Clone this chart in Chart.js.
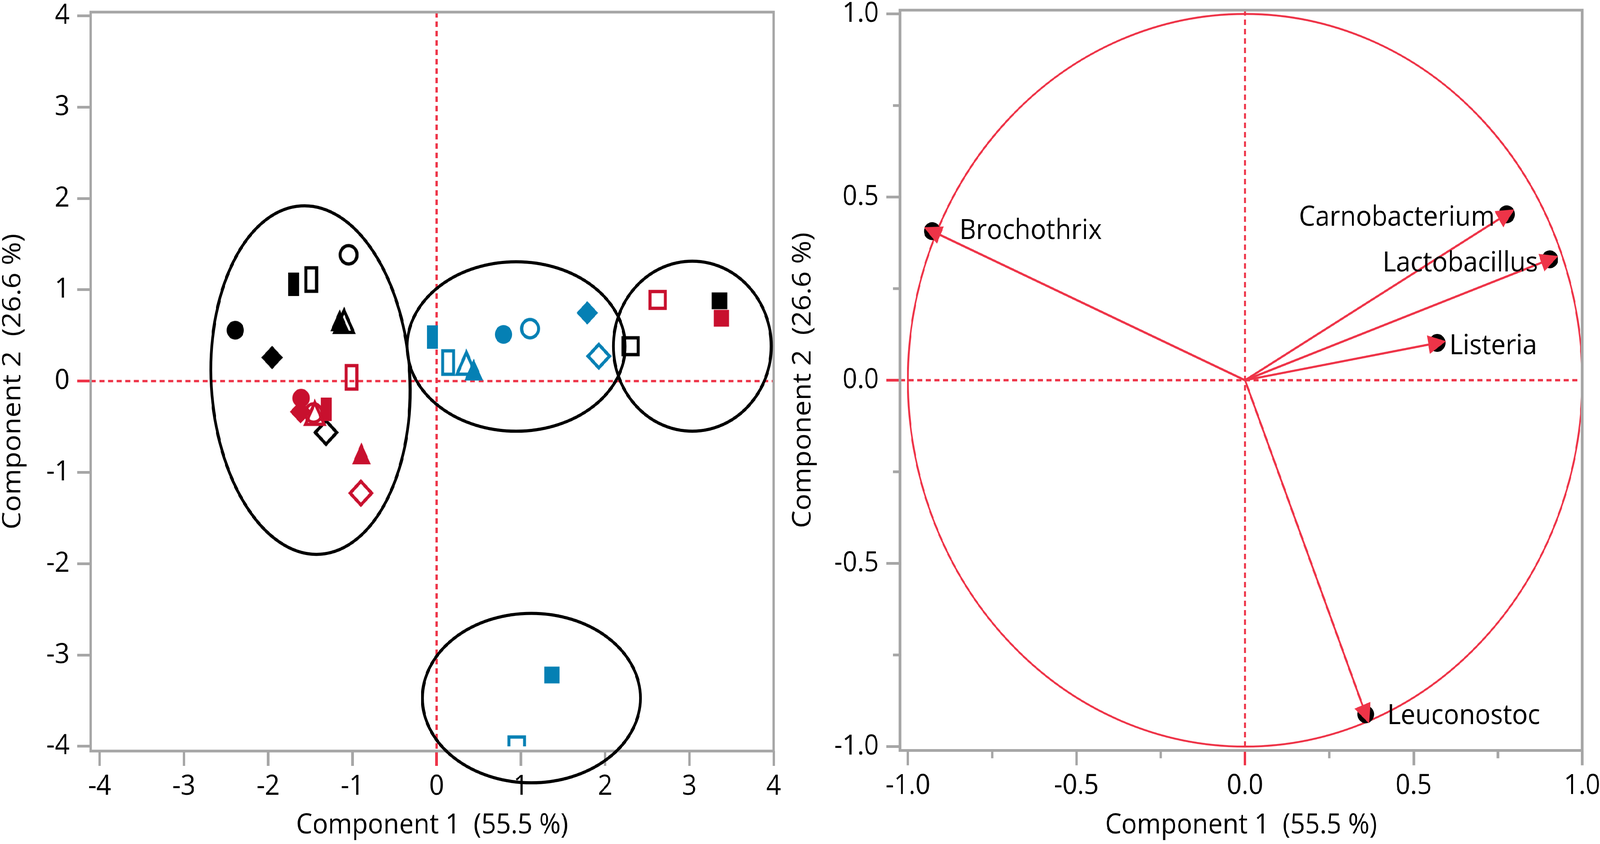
<!DOCTYPE html>
<html>
<head>
<meta charset="utf-8">
<title>PCA score and loading plots</title>
<script src="https://cdn.jsdelivr.net/npm/chart.js@4.4.1/dist/chart.umd.min.js"></script>
<style>
  html, body { margin: 0; padding: 0; background: #fff; overflow: hidden; }
  #view { position: relative; width: 100vw; height: 100vh; overflow: hidden; }
  #stage { position: absolute; left: 0; top: 0; width: 4455px; height: 2161px; transform-origin: 0 0; }
  canvas { position: absolute; top: 0; }
  #scores { left: 0; }
  #loadings { left: 2190px; }
</style>
</head>
<body>
<div id="view">
  <div id="stage">
    <canvas id="scores" width="2190" height="2161"></canvas>
    <canvas id="loadings" width="2265" height="2161"></canvas>
  </div>
</div>
<script>
// ---- score plot (left) ----
// group A = black, B = red, C = blue; marker = sample symbol
const scoreGroup = [
  'A', 'A', 'A', 'A', 'A', 'A', 'A', 'A', 'A', 'A',
  'B', 'B', 'B', 'B', 'B', 'B', 'B', 'B', 'B', 'B',
  'C', 'C', 'C', 'C', 'C', 'C', 'C', 'C', 'C', 'C'
];
const markerOrder = ['circle', 'circle-open', 'bar', 'bar-open', 'diamond', 'diamond-open',
  'triangle', 'triangle-open', 'square', 'square-open'];
const scoreMarker = [...markerOrder, ...markerOrder, ...markerOrder];
const scoreX = [
  -2.390, -1.045, -1.697, -1.489, -1.953, -1.313, -1.151, -1.098, 3.358, 2.302,
  -1.609, -1.460, -1.311, -1.011, -1.615, -0.899, -0.893, -1.446, 3.381, 2.624,
  0.794, 1.109, -0.050, 0.136, 1.788, 1.925, 0.440, 0.353, 1.369, 0.951
];
const scoreY = [
  0.557, 1.383, 1.060, 1.112, 0.258, -0.563, 0.665, 0.653, 0.879, 0.382,
  -0.187, -0.350, -0.309, 0.041, -0.336, -1.227, -0.792, -0.354, 0.688, 0.889,
  0.511, 0.574, 0.482, 0.203, 0.747, 0.273, 0.126, 0.195, -3.219, -3.990
];
const scoreTicks = [-4, -3, -2, -1, 0, 1, 2, 3, 4];

// cluster ellipses (centre, semi-axes in data units, tilt in degrees)
const ellipseCX = [-1.497, 0.944, 3.035, 1.125];
const ellipseCY = [0.011, 0.379, 0.382, -3.472];
const ellipseRX = [1.179, 1.294, 0.937, 1.294];
const ellipseRY = [1.911, 0.928, 0.931, 0.928];
const ellipseTilt = [-3.5, 0, 0, 0];

// ---- loading plot (right) ----
const loadingNames = ['Brochothrix', 'Carnobacterium', 'Lactobacillus', 'Listeria', 'Leuconostoc'];
const loadingX = [-0.928, 0.776, 0.904, 0.570, 0.358];
const loadingY = [0.407, 0.453, 0.330, 0.102, -0.912];
const loadingTicks = [-1, -0.5, 0, 0.5, 1];
const loadingMinorTicks = [-0.75, -0.25, 0.25, 0.75];

// label placement next to each loading point (px)
const labelAlign = ['left', 'right', 'right', 'left', 'left'];
const labelDx = [76, -33, -33, 34, 60];
const labelDy = [0, 9, 10, 9, 4];

const AXIS_GREY = '#a6a6a6';
const REF_RED = '#ee3448';
const groupColor = { A: '#000000', B: '#c8102e', C: '#0580b4' };

// the drawing is laid out on a 4455 x 2161 board; stretch it over the window
const sx = window.innerWidth / 4455;
const sy = window.innerHeight / 2161;
document.getElementById('stage').style.transform = `scale(${sx}, ${sy})`;

Chart.defaults.font.family = "'Open Sans', 'Noto Sans', sans-serif";
Chart.defaults.font.size = 72;
Chart.defaults.color = '#000';

function makeMarker(name, color) {
  const shape = name.replace('-open', '');
  const filled = name.indexOf('-open') < 0;
  const c = document.createElement('canvas');
  c.width = 84;
  c.height = 84;
  const g = c.getContext('2d');
  g.translate(42, 42);
  g.beginPath();
  if (shape === 'circle') {
    g.arc(0, 0, filled ? 24 : 23.5, 0, 2 * Math.PI);
  } else if (shape === 'bar') {
    g.rect(-15, -30, 30, 60);
  } else if (shape === 'square') {
    g.rect(-21.5, -21.5, 43, 43);
  } else if (shape === 'diamond') {
    g.moveTo(0, -30); g.lineTo(30, 0); g.lineTo(0, 30); g.lineTo(-30, 0); g.closePath();
  } else if (shape === 'triangle') {
    g.moveTo(0, -28); g.lineTo(26, 28); g.lineTo(-26, 28); g.closePath();
  }
  if (filled) {
    g.fillStyle = color;
    g.fill();
  } else {
    g.strokeStyle = color;
    g.lineWidth = 8.5;
    g.lineJoin = 'miter';
    g.stroke();
  }
  return c;
}

function makeArrowHead(color) {
  const c = document.createElement('canvas');
  c.width = 64;
  c.height = 64;
  const g = c.getContext('2d');
  g.translate(32, 32);
  g.beginPath();
  g.moveTo(0, -25); g.lineTo(24, 25); g.lineTo(-24, 25); g.closePath();
  g.fillStyle = color;
  g.fill();
  return c;
}

const gridOpts = {
  drawOnChartArea: false,
  tickLength: 38,
  tickWidth: 7,
  tickColor: c => (c.tick && c.tick.value === 0 ? REF_RED : AXIS_GREY)
};

// dashed zero lines and the grey frame round the plot area
const framePlugin = {
  id: 'frame',
  beforeDatasetsDraw(chart) {
    const { ctx, chartArea: a, scales: { x, y } } = chart;
    const x0 = x.getPixelForValue(0);
    const y0 = y.getPixelForValue(0);
    ctx.save();
    ctx.strokeStyle = REF_RED;
    ctx.lineWidth = 6;
    ctx.setLineDash([14, 10]);
    ctx.beginPath();
    ctx.moveTo(a.left, y0); ctx.lineTo(a.right, y0);
    ctx.moveTo(x0, a.top); ctx.lineTo(x0, a.bottom);
    ctx.stroke();
    ctx.setLineDash([]);
    ctx.strokeStyle = AXIS_GREY;
    ctx.lineWidth = 7;
    ctx.strokeRect(a.left, a.top, a.right - a.left, a.bottom - a.top);
    ctx.restore();
  }
};

const ellipsePlugin = {
  id: 'ellipses',
  afterDatasetsDraw(chart) {
    const { ctx, scales: { x, y } } = chart;
    ctx.save();
    ctx.strokeStyle = '#000';
    ctx.lineWidth = 8;
    ellipseCX.forEach((cx, i) => {
      const px = x.getPixelForValue(cx);
      const py = y.getPixelForValue(ellipseCY[i]);
      const rx = Math.abs(x.getPixelForValue(cx + ellipseRX[i]) - px);
      const ry = Math.abs(y.getPixelForValue(ellipseCY[i] + ellipseRY[i]) - py);
      ctx.beginPath();
      ctx.ellipse(px, py, rx, ry, ellipseTilt[i] * Math.PI / 180, 0, 2 * Math.PI);
      ctx.stroke();
    });
    ctx.restore();
  }
};

const circlePlugin = {
  id: 'unitCircle',
  beforeDatasetsDraw(chart) {
    const { ctx, chartArea: a, scales: { x, y } } = chart;
    const px = x.getPixelForValue(0);
    const py = y.getPixelForValue(0);
    ctx.save();
    // minor ticks
    ctx.strokeStyle = AXIS_GREY;
    ctx.lineWidth = 7;
    ctx.beginPath();
    loadingMinorTicks.forEach(v => {
      const tx = x.getPixelForValue(v);
      const ty = y.getPixelForValue(v);
      ctx.moveTo(tx, a.bottom); ctx.lineTo(tx, a.bottom + 20);
      ctx.moveTo(a.left, ty); ctx.lineTo(a.left - 20, ty);
    });
    ctx.stroke();
    // unit circle
    ctx.strokeStyle = REF_RED;
    ctx.lineWidth = 5;
    ctx.beginPath();
    ctx.ellipse(px, py, Math.abs(x.getPixelForValue(1) - px), Math.abs(y.getPixelForValue(1) - py), 0, 0, 2 * Math.PI);
    ctx.stroke();
    ctx.restore();
  }
};

const labelPlugin = {
  id: 'loadingLabels',
  afterDatasetsDraw(chart) {
    const { ctx, scales: { x, y } } = chart;
    ctx.save();
    ctx.font = "72px 'Open Sans', 'Noto Sans', sans-serif";
    ctx.fillStyle = '#000';
    ctx.textBaseline = 'middle';
    loadingNames.forEach((name, i) => {
      ctx.textAlign = labelAlign[i];
      ctx.fillText(name, x.getPixelForValue(loadingX[i]) + labelDx[i], y.getPixelForValue(loadingY[i]) + labelDy[i]);
    });
    ctx.restore();
  }
};

// score plot
new Chart(document.getElementById('scores'), {
  type: 'scatter',
  data: {
    datasets: [{
      data: scoreX.map((v, i) => ({ x: v, y: scoreY[i] })),
      pointStyle: scoreMarker.map((m, i) => makeMarker(m, groupColor[scoreGroup[i]])),
      pointRadius: 30,
      clip: { left: 0, top: 0, right: 0, bottom: -12 }
    }]
  },
  options: {
    responsive: false,
    animation: false,
    devicePixelRatio: 1,
    events: [],
    layout: { padding: { top: 18, right: 36, left: 0, bottom: 0 } },
    plugins: { legend: { display: false }, tooltip: { enabled: false } },
    scales: {
      x: {
        type: 'linear', min: -4.106, max: 4.0,
        afterBuildTicks: s => { s.ticks = scoreTicks.map(v => ({ value: v })); },
        afterFit: s => { s.height = 238; s.paddingLeft = 0; s.paddingRight = 0; },
        ticks: { autoSkip: false, maxRotation: 0, padding: 10, callback: v => String(v) },
        grid: gridOpts,
        border: { display: false },
        title: { display: true, text: 'Component 1  (55.5 %)', font: { size: 72, lineHeight: 1 }, padding: { top: 0, bottom: 12 } }
      },
      y: {
        type: 'linear', min: -4.052, max: 4.041,
        afterBuildTicks: s => { s.ticks = scoreTicks.map(v => ({ value: v })); },
        afterFit: s => { s.width = 252.6; s.paddingTop = 0; s.paddingBottom = 0; },
        ticks: { autoSkip: false, padding: 21, callback: v => String(v) },
        grid: gridOpts,
        border: { display: false },
        title: { display: true, text: 'Component 2  (26.6 %)', font: { size: 72, lineHeight: 1 }, padding: { top: 0, bottom: 0 } }
      }
    }
  },
  plugins: [framePlugin, ellipsePlugin]
});

// loading plot
const loadingPoints = loadingX.map((v, i) => ({ x: v, y: loadingY[i] }));
const arrowDatasets = loadingPoints.map((p, i) => ({
  label: loadingNames[i],
  data: [{ x: 0, y: 0 }, p],
  showLine: true,
  borderColor: REF_RED,
  borderWidth: 5.5,
  pointRadius: 0,
  order: 2
}));

new Chart(document.getElementById('loadings'), {
  type: 'scatter',
  data: {
    datasets: [
      {
        label: 'heads',
        data: loadingPoints,
        pointStyle: makeArrowHead(REF_RED),
        pointRadius: 25,
        pointRotation: loadingX.map((v, i) => Math.atan2(v, loadingY[i]) * 180 / Math.PI),
        order: 1
      },
      ...arrowDatasets,
      {
        label: 'points',
        data: loadingPoints,
        pointStyle: 'circle',
        pointRadius: 23,
        pointBorderWidth: 0,
        pointBackgroundColor: '#000',
        order: 3
      }
    ]
  },
  options: {
    responsive: false,
    animation: false,
    devicePixelRatio: 1,
    events: [],
    layout: { padding: { top: 18, right: 49.6, left: 0, bottom: 0 } },
    plugins: { legend: { display: false }, tooltip: { enabled: false } },
    scales: {
      x: {
        type: 'linear', min: -1.0234, max: 1.0,
        afterBuildTicks: s => { s.ticks = loadingTicks.map(v => ({ value: v })); },
        afterFit: s => { s.height = 239.5; s.paddingLeft = 0; s.paddingRight = 0; },
        ticks: { autoSkip: false, maxRotation: 0, padding: 10, callback: v => v.toFixed(1) },
        grid: gridOpts,
        border: { display: false },
        title: { display: true, text: 'Component 1  (55.5 %)', font: { size: 72, lineHeight: 1 }, padding: { top: 0, bottom: 12 } }
      },
      y: {
        type: 'linear', min: -1.0106, max: 1.0103,
        afterBuildTicks: s => { s.ticks = loadingTicks.map(v => ({ value: v })); },
        afterFit: s => { s.width = 316; s.paddingTop = 0; s.paddingBottom = 0; },
        ticks: { autoSkip: false, padding: 21, callback: v => v.toFixed(1) },
        grid: gridOpts,
        border: { display: false },
        title: { display: true, text: 'Component 2  (26.6 %)', font: { size: 72, lineHeight: 1 }, padding: { top: 10, bottom: 0 } }
      }
    }
  },
  plugins: [circlePlugin, framePlugin, labelPlugin]
});
</script>
</body>
</html>
